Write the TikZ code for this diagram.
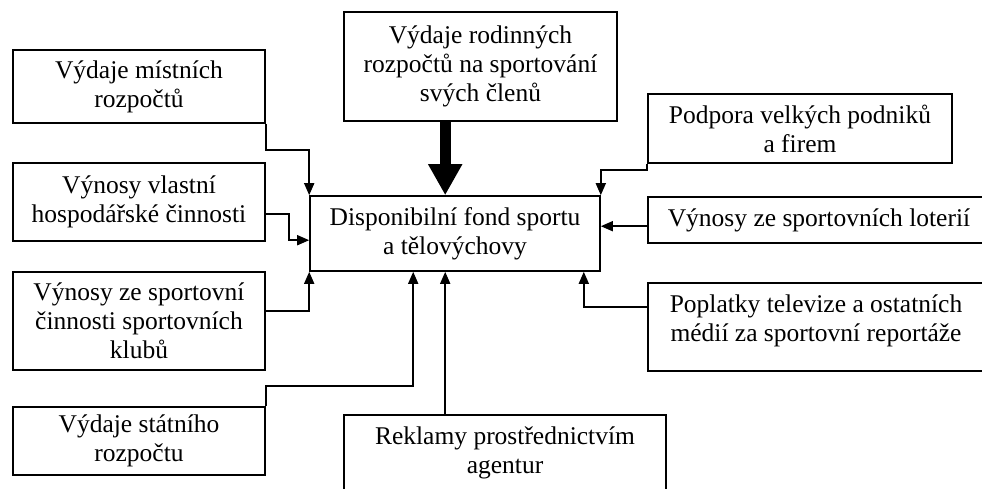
\documentclass[tikz,border=0pt]{standalone}
\usepackage{fontspec}
\setmainfont{Liberation Serif}
\usetikzlibrary{arrows.meta,calc}
\begin{document}
\begin{tikzpicture}[x=1pt,y=-1pt,
  lbl/.style={font=\fontsize{25.5}{28.8}\selectfont, align=center},
  box/.style={draw, line width=1.6pt, inner sep=0pt, lbl},
  txt/.style={inner sep=0pt, lbl},
  conn/.style={line width=1.6pt},
  arr/.style={conn, -{Triangle[length=12pt,width=10pt]}},
  bigarr/.style={line width=11pt, -{Triangle[length=31pt,width=32pt]}}]
\useasboundingbox (0,0) rectangle (982,488);
\fill[white] (0,0) rectangle (982,488);
\clip (0,0) rectangle (982,488);

\node[box, minimum width=252pt, minimum height=73pt] (a) at (139,86.5) {Výdaje místních\\rozpočtů};
\node[box, minimum width=252pt, minimum height=78pt] (b) at (139,202) {Výnosy vlastní\\hospodářské činnosti};
\node[box, minimum width=252pt, minimum height=98pt] (d) at (139,321) {Výnosy ze sportovní\\činnosti sportovních\\klubů};
\node[box, minimum width=252pt, minimum height=68pt] (e) at (139,441) {Výdaje státního\\rozpočtu};
\node[box, minimum width=273pt, minimum height=109pt] (g) at (480.5,66.5) {Výdaje rodinných\\rozpočtů na sportování\\svých členů};
\node[box, minimum width=290pt, minimum height=75pt] (c) at (455,233.5) {Disponibilní fond sportu\\a tělovýchovy};
\node[box, minimum width=304pt, minimum height=69pt] (h) at (800,128.5) {Podpora velkých podniků\\a firem};
\node[box, minimum width=342pt, minimum height=46pt] (i) at (819,220) {Výnosy ze sportovních loterií};
\node[box, minimum width=337pt, minimum height=88pt] (j) at (816.5,327) {};
\node[txt] (jt) at (816,321) {Poplatky televize a ostatních\\médií za sportovní reportáže};
\node[box, minimum width=322pt, minimum height=105pt] (f) at (505,467.5) {};
\node[txt] (ft) at (505,453) {Reklamy prostřednictvím\\agentur};

\draw[bigarr] ($(g.south west)+(102,0)$) -- ($(c.north west)+(136,0)$);
\draw[arr] (a.south east) -- ++(0,26) -| (c.north west);
\draw[arr] ($(b.south east)+(0,-28)$) -- ++(23,0) |- ($(c.north west)+(0,45)$);
\draw[arr] ($(d.east)+(0,-10)$) -| (c.south west);
\draw[arr] (e.north east) -- ++(0,-20) -| ($(c.south west)+(104,0)$);
\draw[arr] ($(f.north west)+(102,0)$) -- ($(c.south west)+(136,0)$);
\draw[arr] (h.south west) -- ++(0,6) -| (c.north east);
\draw[arr] ($(i.north west)+(0,30)$) -- ($(c.north east)+(0,31)$);
\draw[arr] ($(j.north west)+(0,25)$) -| ($(c.south east)+(-17,0)$);
\end{tikzpicture}
\end{document}
